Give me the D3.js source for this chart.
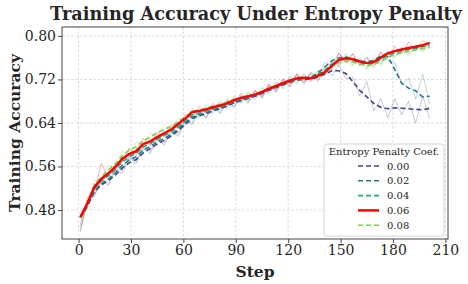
<!DOCTYPE html>
<html><head><meta charset="utf-8">
<script src="https://cdn.jsdelivr.net/npm/d3@7"></script>
<style>html,body{margin:0;padding:0;background:#fff;}svg{display:block;}</style>
</head><body><svg id="c" width="468" height="284"></svg>
<script>
const steps = [1,5,9,13,17,21,25,29,33,37,41,45,49,53,57,61,65,69,73,77,81,85,89,93,97,101,105,109,113,117,121,125,129,133,137,141,145,149,153,157,161,165,169,173,177,181,185,189,193,197,201];
const coefLabels = ["0.00","0.02","0.04","0.06","0.08"];
const colors = ["#414487","#2a788e","#22a884","#ff0000","#7ad151"];
const xTicks = [0,30,60,90,120,150,180,210];
const yTicks = [0.48,0.56,0.64,0.72,0.80];

const smooth00 = [0.466,0.487,0.513,0.526,0.534,0.544,0.557,0.567,0.573,0.585,0.593,0.601,0.608,0.616,0.626,0.637,0.648,0.653,0.657,0.662,0.666,0.671,0.677,0.681,0.685,0.689,0.694,0.700,0.705,0.710,0.715,0.719,0.720,0.721,0.724,0.730,0.736,0.736,0.731,0.716,0.700,0.688,0.676,0.669,0.666,0.668,0.667,0.666,0.665,0.664,0.667];
const smooth02 = [0.466,0.488,0.515,0.528,0.537,0.548,0.562,0.572,0.578,0.590,0.597,0.605,0.612,0.619,0.629,0.640,0.651,0.655,0.659,0.664,0.668,0.673,0.678,0.682,0.686,0.690,0.695,0.701,0.706,0.711,0.716,0.721,0.723,0.724,0.732,0.743,0.754,0.760,0.761,0.758,0.754,0.752,0.755,0.763,0.762,0.738,0.713,0.704,0.699,0.688,0.689];
const smooth04 = [0.466,0.490,0.519,0.533,0.543,0.554,0.568,0.578,0.584,0.596,0.602,0.610,0.617,0.624,0.633,0.644,0.655,0.658,0.662,0.666,0.670,0.674,0.680,0.684,0.688,0.691,0.696,0.702,0.707,0.712,0.717,0.721,0.723,0.723,0.729,0.737,0.748,0.756,0.758,0.755,0.751,0.748,0.750,0.757,0.764,0.769,0.772,0.775,0.777,0.780,0.782];
const smooth06 = [0.467,0.492,0.522,0.537,0.547,0.559,0.574,0.583,0.588,0.601,0.606,0.614,0.621,0.628,0.638,0.648,0.660,0.662,0.665,0.669,0.672,0.676,0.682,0.686,0.689,0.692,0.697,0.703,0.708,0.713,0.718,0.722,0.723,0.722,0.727,0.733,0.745,0.756,0.759,0.757,0.753,0.750,0.752,0.760,0.768,0.772,0.775,0.778,0.780,0.783,0.787];
const smooth08 = [0.466,0.494,0.525,0.541,0.553,0.565,0.580,0.590,0.596,0.607,0.614,0.622,0.628,0.634,0.642,0.651,0.661,0.664,0.667,0.671,0.674,0.678,0.683,0.686,0.689,0.693,0.698,0.703,0.708,0.713,0.717,0.721,0.722,0.723,0.728,0.734,0.743,0.751,0.754,0.752,0.748,0.745,0.747,0.753,0.760,0.766,0.769,0.772,0.774,0.777,0.779];

const raw00 = [0.440,0.497,0.505,0.535,0.525,0.553,0.548,0.576,0.565,0.594,0.584,0.610,0.599,0.625,0.615,0.643,0.637,0.661,0.649,0.671,0.657,0.680,0.668,0.690,0.676,0.698,0.685,0.709,0.696,0.719,0.706,0.728,0.711,0.730,0.716,0.739,0.727,0.747,0.722,0.724,0.690,0.716,0.662,0.685,0.650,0.684,0.655,0.680,0.640,0.690,0.648];
const raw02 = [0.444,0.496,0.507,0.537,0.529,0.556,0.553,0.580,0.569,0.598,0.588,0.613,0.603,0.627,0.619,0.646,0.640,0.663,0.650,0.672,0.659,0.681,0.670,0.691,0.678,0.699,0.687,0.710,0.698,0.720,0.708,0.730,0.715,0.733,0.724,0.752,0.746,0.769,0.753,0.767,0.746,0.761,0.747,0.771,0.754,0.752,0.710,0.722,0.684,0.730,0.675];
const raw04 = [0.470,0.482,0.528,0.525,0.551,0.546,0.577,0.570,0.593,0.588,0.611,0.602,0.626,0.616,0.642,0.635,0.661,0.650,0.670,0.658,0.678,0.666,0.688,0.676,0.696,0.683,0.704,0.694,0.715,0.703,0.725,0.712,0.731,0.715,0.737,0.729,0.757,0.748,0.767,0.747,0.760,0.740,0.759,0.749,0.773,0.761,0.780,0.767,0.785,0.772,0.788];
const raw06 = [0.452,0.503,0.515,0.565,0.540,0.566,0.568,0.594,0.580,0.612,0.598,0.622,0.615,0.637,0.630,0.656,0.651,0.670,0.657,0.676,0.664,0.683,0.675,0.695,0.682,0.700,0.690,0.712,0.700,0.722,0.711,0.731,0.715,0.733,0.719,0.744,0.738,0.768,0.750,0.767,0.745,0.760,0.742,0.770,0.759,0.781,0.767,0.789,0.772,0.792,0.780];
const raw08 = [0.448,0.488,0.534,0.536,0.562,0.559,0.588,0.583,0.604,0.600,0.622,0.615,0.637,0.627,0.648,0.644,0.667,0.657,0.674,0.663,0.681,0.671,0.690,0.679,0.697,0.686,0.706,0.695,0.716,0.705,0.725,0.713,0.730,0.716,0.737,0.727,0.752,0.744,0.763,0.744,0.757,0.737,0.755,0.746,0.768,0.759,0.776,0.764,0.781,0.770,0.784];

const smoothAll = [smooth00, smooth02, smooth04, smooth06, smooth08];
const rawAll = [raw00, raw02, raw04, raw06, raw08];

const svg = d3.select("#c");
const L = 62, R = 448, T = 27, B = 239;
const x = d3.scaleLinear().domain([-9.5, 211.5]).range([L, R]);
const y = d3.scaleLinear().domain([0.4267, 0.8164]).range([B, T]);
const serif = "'DejaVu Serif', serif";
const txt = "#262626", spine = "#444";

const g = svg.append("g");
g.selectAll(".gx").data(xTicks).join("line")
  .attr("x1", d => x(d)).attr("x2", d => x(d)).attr("y1", T).attr("y2", B)
  .attr("stroke", "#d0d0d0").attr("stroke-width", 0.8).attr("stroke-dasharray", "2.5,2");
g.selectAll(".gy").data(yTicks).join("line")
  .attr("x1", L).attr("x2", R).attr("y1", d => y(d)).attr("y2", d => y(d))
  .attr("stroke", "#d0d0d0").attr("stroke-width", 0.8).attr("stroke-dasharray", "2.5,2");

svg.append("clipPath").attr("id","pc").append("rect").attr("x",L).attr("y",T).attr("width",R-L).attr("height",B-T);
const plot = svg.append("g").attr("clip-path","url(#pc)");
const line = d3.line().x((d,i) => x(steps[i])).y(d => y(d));

rawAll.forEach((arr, k) => {
  plot.append("path").attr("d", line(arr)).attr("fill","none")
    .attr("stroke", colors[k]).attr("stroke-width", 1).attr("stroke-opacity", 0.3);
});
[0,1,2,4,3].forEach(k => {
  plot.append("path").attr("d", line(smoothAll[k])).attr("fill","none")
    .attr("stroke", colors[k])
    .attr("stroke-width", k === 3 ? 2.5 : 1.6)
    .attr("stroke-dasharray", k === 3 ? null : "5,3")
    .attr("stroke-linejoin","round");
});

const xa = svg.append("g").attr("transform", `translate(0,${B})`)
  .call(d3.axisBottom(x).tickValues(xTicks).tickSize(4).tickPadding(2).tickFormat(d3.format("d")));
const ya = svg.append("g").attr("transform", `translate(${L},0)`)
  .call(d3.axisLeft(y).tickValues(yTicks).tickSize(4).tickPadding(2).tickFormat(d3.format(".2f")));
[xa, ya].forEach(a => {
  a.select(".domain").remove();
  a.selectAll("line").attr("stroke", spine);
  a.selectAll("text").attr("font-family", serif).attr("font-size", 14).attr("fill", txt);
});
svg.append("rect").attr("x", L).attr("y", T).attr("width", R-L).attr("height", B-T)
  .attr("fill","none").attr("stroke", spine).attr("stroke-width", 1);

svg.append("text").attr("x", 256).attr("y", 20).attr("text-anchor","middle")
  .attr("font-family", serif).attr("font-weight","bold").attr("font-size", 17.7).attr("fill", txt)
  .text("Training Accuracy Under Entropy Penalty");
svg.append("text").attr("x", 255).attr("y", 277).attr("text-anchor","middle")
  .attr("font-family", serif).attr("font-weight","bold").attr("font-size", 15.5).attr("fill", txt)
  .text("Step");
svg.append("text").attr("transform", `translate(20,${(T+B)/2}) rotate(-90)`).attr("text-anchor","middle")
  .attr("font-family", serif).attr("font-weight","bold").attr("font-size", 15.5).attr("fill", txt)
  .text("Training Accuracy");

const lg = svg.append("g");
lg.append("rect").attr("x", 324).attr("y", 144).attr("width", 120).attr("height", 92).attr("rx", 3)
  .attr("fill", "#fff").attr("fill-opacity", 0.85).attr("stroke", "#cccccc").attr("stroke-width", 0.8);
lg.append("text").attr("x", 384).attr("y", 155).attr("text-anchor","middle")
  .attr("font-family", serif).attr("font-size", 10).attr("fill", txt).text("Entropy Penalty Coef.");
coefLabels.forEach((lab, k) => {
  const yy = 166 + k * 14.8;
  lg.append("line").attr("x1", 358).attr("x2", 379).attr("y1", yy).attr("y2", yy)
    .attr("stroke", colors[k]).attr("stroke-width", k === 3 ? 2.5 : 1.6)
    .attr("stroke-dasharray", k === 3 ? null : "5,3");
  lg.append("text").attr("x", 387).attr("y", yy + 3.5)
    .attr("font-family", serif).attr("font-size", 10).attr("fill", txt).text(lab);
});
</script></body></html>
